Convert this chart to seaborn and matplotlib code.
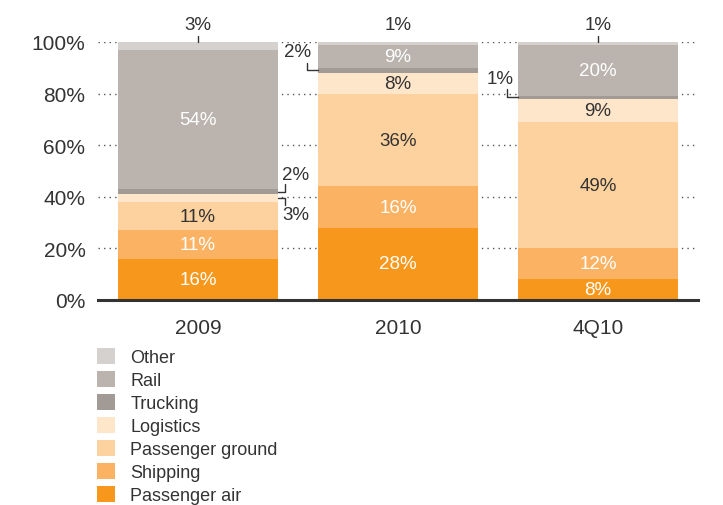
import numpy as np
import pandas as pd
import matplotlib
matplotlib.use("Agg")
import matplotlib.pyplot as plt
import seaborn as sns
from matplotlib.patches import Patch

sns.set_theme(style="white")
plt.rcParams['font.family'] = ['Liberation Sans', 'DejaVu Sans']

# ---- data ----
periods = ["2009", "2010", "4Q10"]
segments = ["Passenger air", "Shipping", "Passenger ground", "Logistics",
            "Trucking", "Rail", "Other"]
passenger_air = [16, 28, 8]
shipping = [11, 16, 12]
passenger_ground = [11, 36, 49]
logistics = [3, 8, 9]
trucking = [2, 2, 1]
rail = [54, 9, 20]
other = [3, 1, 1]
yticks = [0, 20, 40, 60, 80, 100]

values = np.array([passenger_air, shipping, passenger_ground, logistics,
                   trucking, rail, other], dtype=float)
colors = ["#f7981d", "#fbb262", "#fdd29e", "#fee6ca", "#a29a95", "#bab3ae", "#d5d1ce"]
label_white = [True, True, False, False, False, True, False]

cum = np.cumsum(values, axis=0)
bottoms = cum - values

fig = plt.figure(figsize=(7.23, 5.06), dpi=100)
ax = fig.add_axes([98/723, 1 - 301/506, 600/723, 258/506])

# draw cumulative bars from top layer down
for i in range(len(segments) - 1, -1, -1):
    df = pd.DataFrame({"period": periods, "value": cum[i]})
    sns.barplot(data=df, x="period", y="value", color=colors[i], saturation=1,
                width=0.8, ax=ax, zorder=2, linewidth=0)

ax.set_xlim(-0.5, 2.5)
ax.set_ylim(0, 100)
ax.set_yticks(yticks)
ax.set_yticklabels([f"{t}%" for t in yticks])
ax.set_xlabel("")
ax.set_ylabel("")
for s in ["left", "right", "top"]:
    ax.spines[s].set_visible(False)
ax.spines["bottom"].set_color("#333333")
ax.spines["bottom"].set_linewidth(2.2)
ax.spines["bottom"].set_zorder(5)
ax.tick_params(axis="y", length=0, pad=9, labelsize=15, labelcolor="#333333")
ax.tick_params(axis="x", length=0, pad=13, labelsize=15, labelcolor="#333333")
ax.yaxis.grid(True, linestyle=(0, (1, 3)), color="#555555", linewidth=1, zorder=0)
ax.set_axisbelow(True)

# inside labels
hide = {(4, 0), (4, 1), (4, 2), (6, 0), (6, 1), (6, 2), (3, 0)}
for i in range(len(segments)):
    for j in range(len(periods)):
        if (i, j) in hide:
            continue
        v = values[i, j]
        ax.text(j, bottoms[i, j] + v / 2, f"{int(v)}%", ha="center", va="center",
                fontsize=13.5, color="white" if label_white[i] else "#333333", zorder=4)

dark = "#333333"
# top labels (Other)
for j, tick in zip(range(3), [True, False, True]):
    ax.text(j, 106.8, f"{int(other[j])}%", ha="center", va="center", fontsize=13.5,
            color=dark, clip_on=False)
    if tick:
        ax.plot([j, j], [100, 102.4], color=dark, lw=1, clip_on=False, zorder=5)

# 2009 trucking / logistics brackets
ymid_t = bottoms[4, 0] + values[4, 0] / 2
ymid_l = bottoms[3, 0] + values[3, 0] / 2
ax.plot([0.4, 0.435, 0.435], [ymid_t, ymid_t, ymid_t + 2.8], color=dark, lw=1, clip_on=False)
ax.plot([0.4, 0.435, 0.435], [ymid_l, ymid_l, ymid_l - 2.5], color=dark, lw=1, clip_on=False)
ax.text(0.49, 48.5, f"{int(trucking[0])}%", ha="center", va="center", fontsize=13.5, color=dark)
ax.text(0.49, 33.3, f"{int(logistics[0])}%", ha="center", va="center", fontsize=13.5, color=dark)

# 2010 trucking bracket
ym = bottoms[4, 1] + values[4, 1] / 2
ax.plot([0.545, 0.545, 0.6], [ym + 3, ym, ym], color=dark, lw=1, clip_on=False, zorder=5)
ax.text(0.5, 96.2, f"{int(trucking[1])}%", ha="center", va="center", fontsize=13.5, color=dark, zorder=5)

# 4Q10 trucking bracket
ym = bottoms[4, 2] + values[4, 2] / 2
ax.plot([1.545, 1.545, 1.6], [ym + 3.2, ym, ym], color=dark, lw=1, clip_on=False, zorder=5)
ax.text(1.51, 85.8, f"{int(trucking[2])}%", ha="center", va="center", fontsize=13.5, color=dark, zorder=5)

# legend
handles = [Patch(facecolor=colors[i], edgecolor="none", label=segments[i])
           for i in range(len(segments) - 1, -1, -1)]
fig.legend(handles=handles, loc="upper left", bbox_to_anchor=(97/723, 1 - 349/506),
           bbox_transform=fig.transFigure, frameon=False, fontsize=13,
           handlelength=1.0, handleheight=1.0, handletextpad=0.85,
           labelspacing=0.26, borderpad=0, borderaxespad=0, labelcolor=dark)

fig.savefig("out.png", dpi=100)
